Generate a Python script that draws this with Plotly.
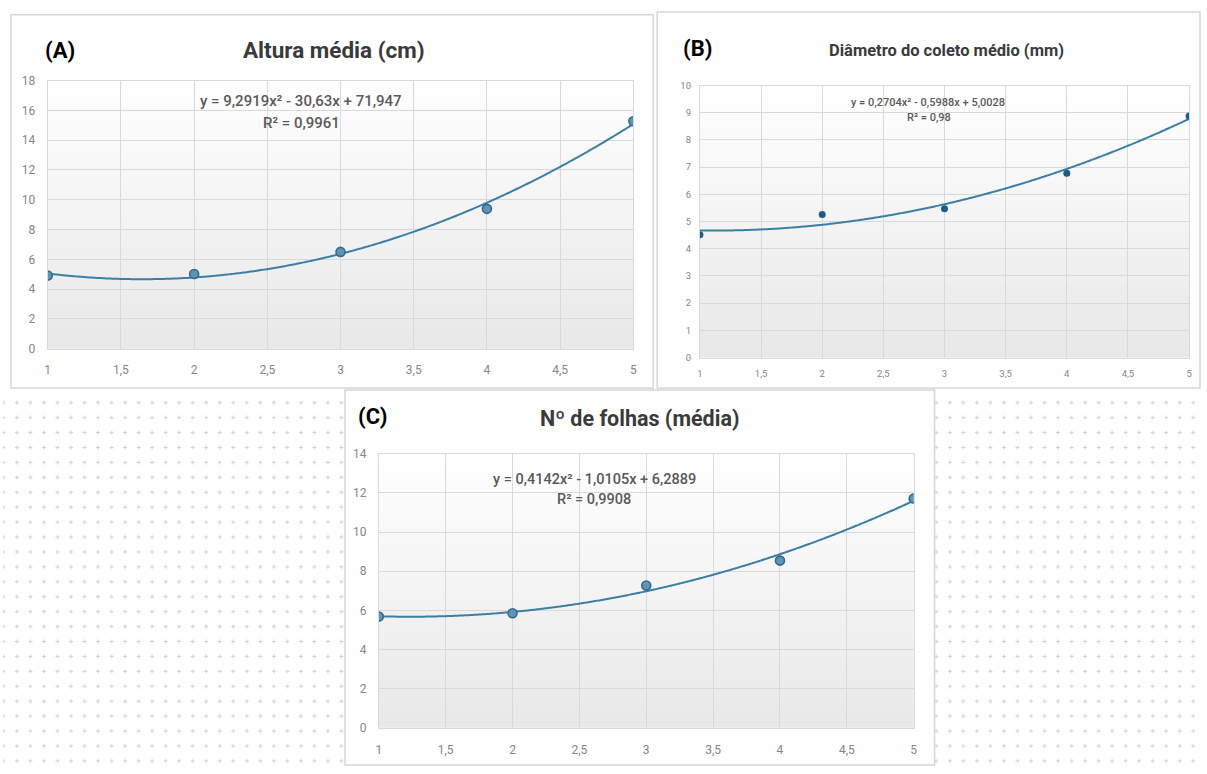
import base64
import numpy as np
import plotly.graph_objects as go

# ---------------- data ----------------
x_vals = [1, 2, 3, 4, 5]
altura = [4.91, 5.02, 6.50, 9.39, 15.27]
diametro = [4.51, 5.26, 5.47, 6.78, 8.88]
folhas = [5.68, 5.85, 7.27, 8.54, 11.71]

eq_a = ["y = 9,2919x² - 30,63x + 71,947", "R² = 0,9961"]
eq_b = ["y = 0,2704x² - 0,5988x + 5,0028", "R² = 0,98"]
eq_c = ["y = 0,4142x² - 1,0105x + 6,2889", "R² = 0,9908"]

titles = ["Altura média (cm)", "Diâmetro do coleto médio (mm)", "Nº de folhas (média)"]
labels = ["(A)", "(B)", "(C)"]

W, H = 1207, 774


def px(x):
    return x / W


def py(y):
    return 1 - y / H


fig = go.Figure()

# background pattern of faint plus signs (decorative), lower half only
svg = f'''<svg xmlns="http://www.w3.org/2000/svg" width="{W}" height="{H}">
<defs><pattern id="p" x="7.2" y="395.4" width="13.6" height="15.2" patternUnits="userSpaceOnUse">
<path d="M4.8 7.6 H8.8 M6.8 5.6 V9.6" stroke="#cdd1e1" stroke-width="1.1"/></pattern></defs>
<rect x="0" y="392" width="{W}" height="{H - 392}" fill="url(#p)"/></svg>'''
src = "data:image/svg+xml;base64," + base64.b64encode(svg.encode()).decode()
fig.add_layout_image(dict(source=src, xref="paper", yref="paper", x=0, y=1,
                          sizex=1, sizey=1, sizing="stretch", layer="below",
                          xanchor="left", yanchor="top"))

# panel boxes (pixel coords)
panels = [(8, 8, 654, 388), (658, 5, 1204, 388), (344, 390, 937, 772)]
for (x0, y0, x1, y1) in panels:
    fig.add_shape(type="rect", xref="paper", yref="paper",
                  x0=px(x0), x1=px(x1), y0=py(y1), y1=py(y0),
                  fillcolor="white", line=dict(color="#d6d6d6", width=1.5),
                  layer="below")

# plot areas (pixel coords): left, right, top, bottom
areas = [(45, 634, 75, 348), (701, 1193, 80, 357), (378, 916, 455, 734)]
yranges = [(0, 18, 2), (0, 10, 1), (0, 14, 2)]
tick_sizes = [12, 9.5, 12]
x_standoff = [10, 7, 11]
y_standoff = [9, 6, 9]
series = [altura, diametro, folhas]

for i, ((l, r, t, b), (y0, y1, dy)) in enumerate(zip(areas, yranges)):
    n = "" if i == 0 else str(i + 1)
    xa = dict(domain=[px(l), px(r)], range=[1, 5], dtick=0.5, tick0=1,
              showgrid=True, gridcolor="#d9d9d9", gridwidth=1,
              showline=True, linecolor="#d9d9d9", mirror=True,
              zeroline=False, ticks="", fixedrange=True,
              ticklabelstandoff=x_standoff[i],
              tickfont=dict(family="Roboto", size=tick_sizes[i], color="#858585"),
              anchor="y" + n)
    ya = dict(domain=[py(b), py(t)], range=[y0, y1], dtick=dy, tick0=0,
              showgrid=True, gridcolor="#d9d9d9", gridwidth=1,
              showline=True, linecolor="#d9d9d9", mirror=True,
              zeroline=False, ticks="", fixedrange=True,
              ticklabelstandoff=y_standoff[i],
              tickfont=dict(family="Roboto", size=tick_sizes[i], color="#858585"),
              anchor="x" + n)
    fig.update_layout(**{"xaxis" + n: xa, "yaxis" + n: ya})

    # vertical gradient background of plot area
    nb = 40
    for k in range(nb):
        f0, f1 = k / nb, (k + 1) / nb
        g = int(round(232 + (255 - 232) * (f0 + f1) / 2))
        fig.add_shape(type="rect", xref=f"x{n} domain", yref=f"y{n} domain",
                      x0=0, x1=1, y0=f0, y1=f1 + 0.002,
                      fillcolor=f"rgb({g},{g},{g})", line=dict(width=0),
                      layer="below")

    # trendline: second-order polynomial fitted to the points
    ys = series[i]
    coef = np.polyfit(x_vals, ys, 2)
    xf = np.linspace(1, 5, 200)
    yf = np.polyval(coef, xf)
    fig.add_trace(go.Scatter(x=xf, y=yf, mode="lines", xaxis="x" + n, yaxis="y" + n,
                             line=dict(color="#3c7fa5", width=2, shape="spline"),
                             hoverinfo="skip", showlegend=False))
    if i == 1:
        mk = dict(size=7, color="#1d5e87", line=dict(width=0))
    else:
        mk = dict(size=9, color="#6193b5", line=dict(width=1.6, color="#2f6b90"))
    fig.add_trace(go.Scatter(x=x_vals, y=ys, mode="markers", xaxis="x" + n,
                             yaxis="y" + n, marker=mk, showlegend=False))

# titles and labels
ann = []
title_specs = [
    (labels[0], 57.7, 44, 22, "#000000", titles[0], 332.5, 44, 22.5),
    (labels[1], 699, 42, 22, "#000000", titles[1], 949, 44, 16.5),
    (labels[2], 372.5, 417, 22, "#000000", titles[2], 640, 419, 21.5),
]
for lab, lx, ly, ls, lc, tt, tx, ty, ts in title_specs:
    ann.append(dict(text=f"<b>{lab}</b>", x=px(lx), y=py(ly), xref="paper", yref="paper",
                    showarrow=False, xanchor="center", yanchor="middle",
                    font=dict(family="Roboto", size=ls, color=lc)))
    ann.append(dict(text=f"<b>{tt}</b>", x=px(tx), y=py(ty), xref="paper", yref="paper",
                    showarrow=False, xanchor="center", yanchor="middle",
                    font=dict(family="Roboto", size=ts, color="#3a3a3a")))

eq_specs = [
    (eq_a, 300, 96, 300, 118, 15),
    (eq_b, 930, 97, 931, 113, 11),
    (eq_c, 594.5, 481, 594, 502, 14.5),
]
for eq, ex, ey, rx, ry, es in eq_specs:
    ann.append(dict(text=eq[0], x=px(ex), y=py(ey), xref="paper", yref="paper",
                    showarrow=False, xanchor="center", yanchor="middle",
                    font=dict(family="Roboto", size=es, color="#595959", weight=500)))
    ann.append(dict(text=eq[1], x=px(rx), y=py(ry), xref="paper", yref="paper",
                    showarrow=False, xanchor="center", yanchor="middle",
                    font=dict(family="Roboto", size=es, color="#595959", weight=500)))

fig.update_layout(width=W, height=H, margin=dict(l=0, r=0, t=0, b=0),
                  paper_bgcolor="white", plot_bgcolor="rgba(0,0,0,0)",
                  separators=",.", annotations=ann, showlegend=False)

fig.write_html("out.html", config={"displayModeBar": False},
               post_script="document.body.style.margin='0';document.body.style.overflow='hidden';")
